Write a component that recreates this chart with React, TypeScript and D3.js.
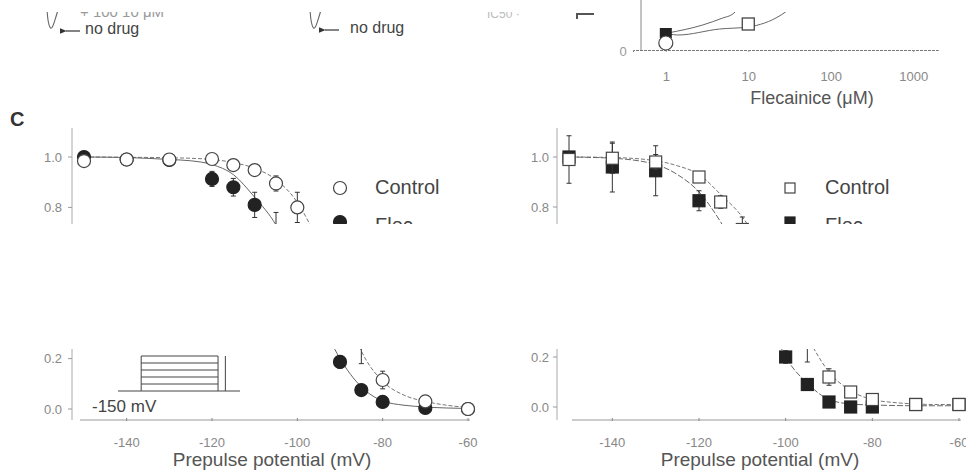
import React, { useRef, useEffect } from "react";
import * as d3 from "d3";

const W = 966;
const H = 475;
const FONT = "'Liberation Sans', Arial, sans-serif";

// Panel C left (circles): [prepulse mV, fraction available, sem]
const ctrlCircles = [
  [-150, 0.984, 0.012], [-140, 0.99, 0.01], [-130, 0.99, 0.01], [-120, 0.992, 0.01],
  [-115, 0.968, 0.01], [-110, 0.948, 0.012], [-105, 0.895, 0.03], [-100, 0.8, 0.06],
  [-85, 0.3, 0.12], [-80, 0.115, 0.035], [-70, 0.03, 0.005], [-60, 0.0, 0.004],
];
const flecCircles = [
  [-150, 1.0, 0.02], [-140, 0.99, 0.022], [-130, 0.988, 0.022], [-120, 0.913, 0.03],
  [-115, 0.88, 0.035], [-110, 0.81, 0.05], [-105, 0.68, 0.1], [-90, 0.187, 0.025],
  [-85, 0.075, 0.006], [-80, 0.028, 0.005], [-70, 0.004, 0.003], [-60, 0.0, 0.003],
];

// Panel C right (squares)
const ctrlSquares = [
  [-150, 0.99, 0.095], [-140, 0.995, 0.06], [-130, 0.98, 0.03], [-120, 0.92, 0.015],
  [-115, 0.82, 0.025], [-110, 0.71, 0.05], [-95, 0.28, 0.1], [-90, 0.12, 0.033],
  [-85, 0.06, 0.01], [-80, 0.03, 0.006], [-70, 0.01, 0.004], [-60, 0.01, 0.004],
];
const flecSquares = [
  [-150, 1.0, 0.01], [-140, 0.96, 0.1], [-130, 0.945, 0.1], [-120, 0.825, 0.04],
  [-100, 0.2, 0.025], [-95, 0.09, 0.01], [-90, 0.02, 0.006], [-85, 0.0, 0.004],
  [-80, 0.0, 0.004], [-70, 0.01, 0.004], [-60, 0.01, 0.004],
];

// fitted curves
const fitV = [-150, -140, -130, -125, -120, -115, -110, -105, -100, -95, -90, -85, -80, -75, -70, -65, -60];
const fitCtrlL = [1.0, 0.999, 0.997, 0.995, 0.99, 0.978, 0.955, 0.91, 0.82, 0.66, 0.46, 0.23, 0.11, 0.055, 0.03, 0.015, 0.006];
const fitFlecL = [1.0, 0.998, 0.99, 0.985, 0.97, 0.93, 0.84, 0.73, 0.55, 0.37, 0.2, 0.088, 0.032, 0.015, 0.008, 0.004, 0.002];
const fitCtrlR = [1.0, 0.998, 0.985, 0.965, 0.93, 0.85, 0.76, 0.62, 0.45, 0.28, 0.14, 0.065, 0.03, 0.018, 0.012, 0.01, 0.01];
const fitFlecR = [1.0, 0.995, 0.97, 0.93, 0.86, 0.74, 0.58, 0.4, 0.2, 0.095, 0.03, 0.012, 0.008, 0.006, 0.005, 0.005, 0.005];

const xTicksC = [-140, -120, -100, -80, -60];
const yTicksC = [0, 0.2, 0.4, 0.6, 0.8, 1.0];

// concentration inset (top right)
const concTicks = [1, 10, 100, 1000];
const insetCircle = [[1, 0.035, 0]];
const insetFilledSq = [[1, 0.085, 0.02]];
const insetOpenSq = [[10, 0.13, 0.025]];
const insetFitA = [[1.05, 0.085], [2.8, 0.125], [4.9, 0.16], [6.5, 0.18], [9, 0.25]];
const insetFitB = [[1.1, 0.08], [1.4, 0.075], [4.5, 0.105], [9.9, 0.115], [25, 0.175], [45, 0.26]];

// prepulse protocol sketch
const protoSteps = [-150, -140, -130, -120, -110, -100];

const App = () => {
  const svgRef = useRef(null);

  useEffect(() => {
    const svg = d3.select(svgRef.current);
    svg.selectAll("*").remove();
    svg.style("font-family", FONT);

    const defs = svg.append("defs");
    defs.append("marker")
      .attr("id", "arrow")
      .attr("viewBox", "0 0 10 10")
      .attr("refX", 1).attr("refY", 5)
      .attr("markerWidth", 6).attr("markerHeight", 6)
      .attr("orient", "auto")
      .append("path")
      .attr("d", "M10,1 L0,5 L10,9 Z")
      .attr("fill", "#333");

    // ---------- top strip: traces with "no drug" arrows ----------
    const trace = d3.line().curve(d3.curveBasis);
    const traceShape = [[0, 0], [1, 12], [3, 18], [5, 19], [8, 10], [11, 0]];
    [[47, 10, 62, 31, 85], [310, 10, 321, 30, 350]].forEach(([tx, ty, ax, ay, lx]) => {
      svg.append("path")
        .attr("d", trace(traceShape.map(([a, b]) => [tx + a, ty + b])))
        .attr("fill", "none").attr("stroke", "#666").attr("stroke-width", 1.1);
      svg.append("line")
        .attr("x1", ax + 18).attr("y1", ay).attr("x2", ax + 4).attr("y2", ay)
        .attr("stroke", "#333").attr("stroke-width", 1.2)
        .attr("marker-end", "url(#arrow)");
      svg.append("text").attr("x", lx).attr("y", ay + 3)
        .style("font-size", "16px").style("fill", "#444").text("no drug");
    });
    svg.append("text").attr("x", 80).attr("y", 17)
      .style("font-size", "15px").style("fill", "#999").text("+ 100 10 μM");
    svg.append("text").attr("x", 487).attr("y", 18)
      .style("font-size", "12px").style("fill", "#bbb").text("IC50 ·");
    svg.append("path").attr("d", "M577,19 V14 H594")
      .attr("fill", "none").attr("stroke", "#555").attr("stroke-width", 2);

    // ---------- concentration inset ----------
    const xc = d3.scaleLog().domain([0.4, 2000]).range([633, 938]);
    const yc = d3.scaleLinear().domain([0, 1]).range([50, -150]);
    svg.append("line").attr("x1", 641).attr("x2", 641).attr("y1", 0).attr("y2", 50)
      .attr("stroke", "#888");
    const gcx = svg.append("g").attr("transform", "translate(0,50)")
      .call(d3.axisBottom(xc).tickValues(concTicks).tickSize(2).tickFormat(d3.format("d")));
    gcx.select(".domain").attr("stroke", "#777").attr("stroke-dasharray", "3,1");
    gcx.selectAll(".tick line").attr("stroke", "#999");
    gcx.selectAll("text").attr("y", 22).style("font-size", "13px").style("fill", "#888")
      .style("font-family", FONT);
    svg.append("text").attr("x", 623).attr("y", 56).attr("text-anchor", "middle")
      .style("font-size", "13px").style("fill", "#999").text("0");
    svg.append("text").attr("x", 812).attr("y", 104).attr("text-anchor", "middle")
      .style("font-size", "18px").style("fill", "#555").text("Flecainice (μM)");

    const cLine = d3.line().x((d) => xc(d[0])).y((d) => yc(d[1])).curve(d3.curveMonotoneX);
    [insetFitA, insetFitB].forEach((f) => {
      svg.append("path").attr("d", cLine(f)).attr("fill", "none")
        .attr("stroke", "#666").attr("stroke-width", 1);
    });
    const errBar = (g, x, y0, y1) => {
      g.append("line").attr("x1", x).attr("x2", x).attr("y1", y0).attr("y2", y1)
        .attr("stroke", "#333").attr("stroke-width", 1);
      [y0, y1].forEach((yy) => g.append("line").attr("x1", x - 2.5).attr("x2", x + 2.5)
        .attr("y1", yy).attr("y2", yy).attr("stroke", "#333").attr("stroke-width", 1));
    };
    insetFilledSq.forEach(([c, v, e]) => {
      errBar(svg, xc(c), yc(v + e), yc(v - e));
      svg.append("rect").attr("x", xc(c) - 6).attr("y", yc(v) - 5).attr("width", 12)
        .attr("height", 10).attr("fill", "#222");
    });
    insetCircle.forEach(([c, v]) => {
      svg.append("circle").attr("cx", xc(c)).attr("cy", yc(v)).attr("r", 7)
        .attr("fill", "#fff").attr("stroke", "#444").attr("stroke-width", 1.2);
    });
    insetOpenSq.forEach(([c, v, e]) => {
      errBar(svg, xc(c), yc(v + e), yc(v - e));
      svg.append("rect").attr("x", xc(c) - 6).attr("y", yc(v) - 6).attr("width", 12)
        .attr("height", 12).attr("fill", "#fff").attr("stroke", "#444").attr("stroke-width", 1.3);
    });

    // ---------- panel C ----------
    svg.append("text").attr("x", 10).attr("y", 126)
      .style("font-size", "20px").style("font-weight", "bold").style("fill", "#333").text("C");

    const panel = (x0, x1, yTop, yZero, yAxisX, xAxisStart, labelX, ctrl, flec, fitC, fitF, shape, legendX) => {
      const x = d3.scaleLinear().domain([-150, -60]).range([x0, x1]);
      const y = d3.scaleLinear().domain([0, 1]).range([yZero, yTop]);
      const g = svg.append("g");

      // y axis
      g.append("line").attr("x1", yAxisX).attr("x2", yAxisX).attr("y1", 128).attr("y2", 420)
        .attr("stroke", "#aaa");
      yTicksC.forEach((t) => {
        g.append("line").attr("x1", yAxisX - 4).attr("x2", yAxisX).attr("y1", y(t)).attr("y2", y(t))
          .attr("stroke", "#999");
        g.append("text").attr("x", labelX).attr("y", y(t) + 4.5).attr("text-anchor", "end")
          .style("font-size", "13px").style("fill", "#888").text(d3.format(".1f")(t));
      });
      // x axis
      g.append("line").attr("x1", xAxisStart).attr("x2", x1 + 2).attr("y1", 420).attr("y2", 420)
        .attr("stroke", "#999");
      xTicksC.forEach((t) => {
        g.append("line").attr("x1", x(t)).attr("x2", x(t)).attr("y1", 418).attr("y2", 421)
          .attr("stroke", "#888");
        g.append("text").attr("x", x(t)).attr("y", 447).attr("text-anchor", "middle")
          .style("font-size", "13px").style("fill", "#888").text(String(t));
      });
      g.append("text").attr("x", (x0 + x1) / 2 - 4).attr("y", 466).attr("text-anchor", "middle")
        .style("font-size", "19px").style("fill", "#555").text("Prepulse potential (mV)");

      // fits
      const fl = (vals) => d3.line().x((d, i) => x(fitV[i])).y((d) => y(d)).curve(d3.curveMonotoneX)(vals);
      g.append("path").attr("d", fl(fitC)).attr("fill", "none").attr("stroke", "#777")
        .attr("stroke-width", 1).attr("stroke-dasharray", "4,2");
      g.append("path").attr("d", fl(fitF)).attr("fill", "none").attr("stroke", "#666")
        .attr("stroke-width", 1).attr("stroke-dasharray", shape === "square" ? "6,2" : null);

      const mark = (gg, cx, cy, filled, size = 12) => {
        if (shape === "circle") {
          gg.append("circle").attr("cx", cx).attr("cy", cy).attr("r", size / 2 + 0.5)
            .attr("fill", filled ? "#222" : "#fff").attr("stroke", filled ? "#222" : "#444")
            .attr("stroke-width", 1.2);
        } else {
          gg.append("rect").attr("x", cx - size / 2).attr("y", cy - size / 2)
            .attr("width", size).attr("height", size)
            .attr("fill", filled ? "#222" : "#fff").attr("stroke", filled ? "#222" : "#444")
            .attr("stroke-width", 1.2);
        }
      };
      const series = (data, filled) => {
        data.forEach(([v, val, e]) => {
          errBar(g, x(v), y(val + e), y(val - e));
        });
        data.forEach(([v, val]) => mark(g, x(v), y(val), filled));
      };
      series(flec, true);
      series(ctrl, false);

      // legend
      mark(g, legendX, 188, false, shape === "circle" ? 12 : 10);
      g.append("text").attr("x", legendX + 35).attr("y", 194)
        .style("font-size", "20px").style("fill", "#444").text("Control");
      mark(g, legendX, 222, true, shape === "circle" ? 12 : 10);
      g.append("text").attr("x", legendX + 35).attr("y", 232)
        .style("font-size", "20px").style("fill", "#444").text("Flec");
      return x;
    };

    panel(84, 468, 157, 409, 72, 80, 62, ctrlCircles, flecCircles, fitCtrlL, fitFlecL, "circle", 340);
    panel(569, 959, 157, 407, 557, 572, 549, ctrlSquares, flecSquares, fitCtrlR, fitFlecR, "square", 790);

    // blank bands of the clipped figure
    svg.append("rect").attr("x", 0).attr("y", 0).attr("width", 640).attr("height", 12).attr("fill", "#fff");
    svg.append("rect").attr("x", 645).attr("y", 0).attr("width", W - 645).attr("height", 12).attr("fill", "#fff");
    svg.append("rect").attr("x", 0).attr("y", 224).attr("width", W).attr("height", 125).attr("fill", "#fff");

    // protocol sketch (bottom-left inset)
    const pt = d3.scaleLinear().domain([0, 100]).range([118, 240]);
    const pv = d3.scaleLinear().domain([-150, -100]).range([391, 356]);
    const proto = svg.append("g").attr("stroke", "#444").attr("stroke-width", 1).attr("fill", "none");
    protoSteps.forEach((s) => {
      proto.append("line").attr("x1", pt(19)).attr("x2", pt(82)).attr("y1", pv(s)).attr("y2", pv(s));
    });
    proto.append("line").attr("x1", pt(0)).attr("x2", pt(19)).attr("y1", pv(-150)).attr("y2", pv(-150));
    proto.append("line").attr("x1", pt(82)).attr("x2", pt(100)).attr("y1", pv(-150)).attr("y2", pv(-150));
    [19, 82, 88].forEach((t) => {
      proto.append("line").attr("x1", pt(t)).attr("x2", pt(t)).attr("y1", pv(-150)).attr("y2", pv(-100));
    });
    svg.append("text").attr("x", 92).attr("y", 412)
      .style("font-size", "17px").style("fill", "#444").text("-150 mV");
  }, []);

  return (
    <svg
      ref={svgRef}
      width={W}
      height={H}
      style={{ position: "absolute", left: 0, top: 0, background: "#fff" }}
    />
  );
};

export default App;
